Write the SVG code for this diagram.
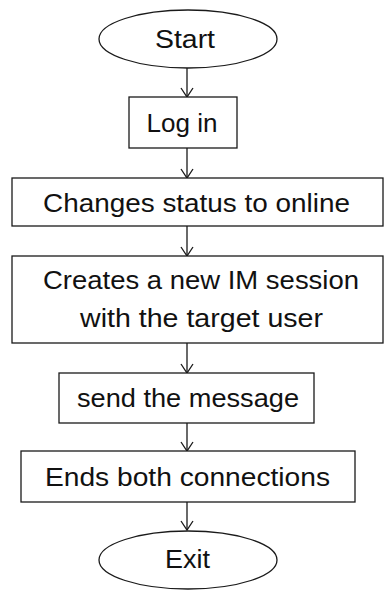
<svg xmlns="http://www.w3.org/2000/svg" width="384" height="590" viewBox="0 0 384 590">
<defs>
<style>
.s{fill:#fff;stroke:#1a1a1a;stroke-width:1.3}
.t{font-family:"Liberation Sans",Arial,sans-serif;font-size:25px;fill:#111;text-anchor:middle}
.c{fill:none;stroke:#1a1a1a;stroke-width:1.3}
</style>
<marker id="a" markerWidth="14" markerHeight="14" refX="10" refY="7" orient="auto" markerUnits="userSpaceOnUse" viewBox="0 0 14 14"><path d="M1,1 L10,7 L1,13" fill="none" stroke="#1a1a1a" stroke-width="1.3"/></marker>
</defs>
<rect width="384" height="590" fill="#fff"/>
<g id="connectors">
<line class="c" x1="187" y1="68" x2="187" y2="97" marker-end="url(#a)"/>
<line class="c" x1="187" y1="148" x2="187" y2="178" marker-end="url(#a)"/>
<line class="c" x1="187" y1="226" x2="187" y2="256" marker-end="url(#a)"/>
<line class="c" x1="187" y1="343" x2="187" y2="373" marker-end="url(#a)"/>
<line class="c" x1="187" y1="423" x2="187" y2="451" marker-end="url(#a)"/>
<line class="c" x1="187" y1="502" x2="187" y2="530" marker-end="url(#a)"/>
</g>
<g id="start"><ellipse class="s" cx="188" cy="39" rx="89" ry="29"/><text class="t" x="185" y="48" textLength="60" lengthAdjust="spacingAndGlyphs">Start</text></g>
<g id="login"><rect class="s" x="129" y="97" width="108" height="51"/><text class="t" x="182" y="132" textLength="71" lengthAdjust="spacingAndGlyphs">Log in</text></g>
<g id="status"><rect class="s" x="12" y="178" width="371" height="48"/><text class="t" x="196.5" y="212" textLength="307" lengthAdjust="spacingAndGlyphs">Changes status to online</text></g>
<g id="session"><rect class="s" x="12" y="256" width="371" height="87"/><text class="t" x="201" y="289" textLength="316" lengthAdjust="spacingAndGlyphs">Creates a new IM session</text><text class="t" x="201.5" y="327" textLength="243" lengthAdjust="spacingAndGlyphs">with the target user</text></g>
<g id="send"><rect class="s" x="59" y="373" width="255" height="50"/><text class="t" x="188" y="407" textLength="222" lengthAdjust="spacingAndGlyphs">send the message</text></g>
<g id="ends"><rect class="s" x="21" y="451" width="334" height="51"/><text class="t" x="187.5" y="486" textLength="285" lengthAdjust="spacingAndGlyphs">Ends both connections</text></g>
<g id="exit"><ellipse class="s" cx="188" cy="560" rx="89" ry="29"/><text class="t" x="187.5" y="568" textLength="45" lengthAdjust="spacingAndGlyphs">Exit</text></g>
</svg>
